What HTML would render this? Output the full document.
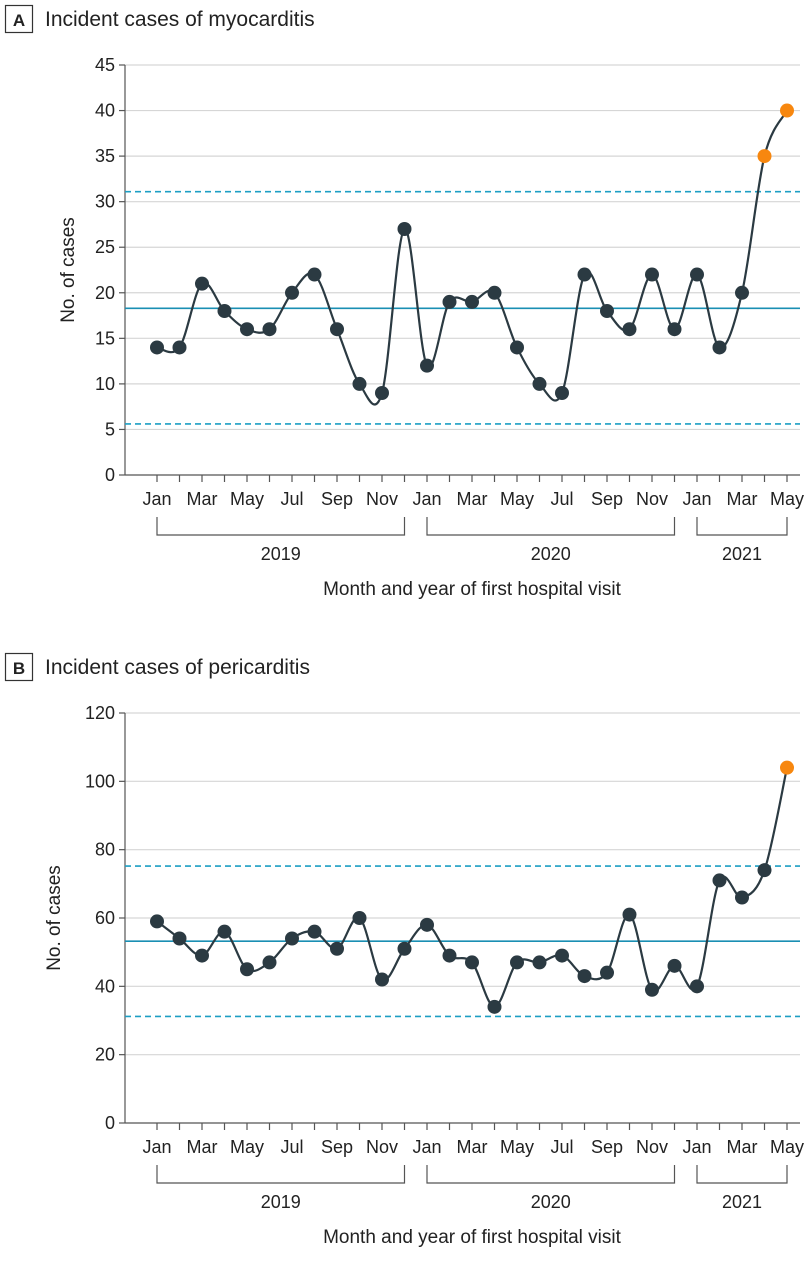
<!DOCTYPE html>
<html><head><meta charset="utf-8"><style>
body{margin:0;background:#fff;width:810px;height:1275px;overflow:hidden}
svg{display:block}
text{font-family:"Liberation Sans Narrow","Liberation Sans",sans-serif;fill:#222}
</style></head><body>
<svg id="svg" width="810" height="1275" viewBox="0 0 810 1275" xmlns="http://www.w3.org/2000/svg"></svg>
<script>
const months = ["Jan","Feb","Mar","Apr","May","Jun","Jul","Aug","Sep","Oct","Nov","Dec","Jan","Feb","Mar","Apr","May","Jun","Jul","Aug","Sep","Oct","Nov","Dec","Jan","Feb","Mar","Apr","May"];
const myoValues = [14,14,21,18,16,16,20,22,16,10,9,27,12,19,19,20,14,10,9,22,18,16,22,16,22,14,20,35,40];
const periValues = [59,54,49,56,45,47,54,56,51,60,42,51,58,49,47,34,47,47,49,43,44,61,39,46,40,71,66,74,104];
const myoLimits = [5.6,18.3,31.1];
const periLimits = [31.2,53.2,75.2];
const myoTicks = [0,5,10,15,20,25,30,35,40,45];
const periTicks = [0,20,40,60,80,100,120];
const myoSignals = [27,28];
const periSignals = [28];
const years = [{label:"2019",from:0,to:11},{label:"2020",from:12,to:23},{label:"2021",from:24,to:28}];

const NS="http://www.w3.org/2000/svg";
const svg=document.getElementById('svg');
function mk(tag,attrs,parent,txt){const e=document.createElementNS(NS,tag);for(const k in attrs)e.setAttribute(k,attrs[k]);if(txt!==undefined)e.textContent=txt;(parent||svg).appendChild(e);return e;}

function panel(oy,letter,title,values,limits,ticks,ymax,signals,key){
  const g=mk('g',{});
  
  
  const x0=125,x1=800,yTop=65+oy,yBot=475+oy;
  const xs=i=>157+i*22.5;
  const ys=v=>yBot-(v/ymax)*(yBot-yTop);
  const lb=mk('rect',{x:5.5,y:5.5+oy,width:27,height:27,fill:'none',stroke:'#333','stroke-width':1.2},g);
  
  
  const lt=mk('text',{x:19,y:26+oy,'text-anchor':'middle','font-size':17,'font-weight':'bold'},g,letter);
  
  
  const tt=mk('text',{x:45,y:26+oy,'font-size':21},g,title);
  
  
  ticks.forEach(t=>{
    const y=ys(t);
    if(t>0){const gl=mk('line',{x1:x0,x2:x1,y1:y,y2:y,stroke:'#d6d6d6','stroke-width':1.2},g);
      }
    mk('line',{x1:x0-6,x2:x0,y1:y,y2:y,stroke:'#555','stroke-width':1.2},g);
    const tl=mk('text',{x:x0-10,y:y+6,'text-anchor':'end','font-size':18},g,String(t));
    
    
  });
  mk('line',{x1:x0,x2:x0,y1:yTop,y2:yBot,stroke:'#555','stroke-width':1.2},g);
  mk('line',{x1:x0,x2:x1,y1:yBot,y2:yBot,stroke:'#555','stroke-width':1.2},g);
  const yt=mk('text',{x:0,y:0,'text-anchor':'middle','font-size':19,transform:`translate(${key==='myo'?74:60},${(yTop+yBot)/2}) rotate(-90)`},g,'No. of cases');
  
  
  const cls=['lower-control-limit','mean-line','upper-control-limit'];
  limits.forEach((v,i)=>{
    const l=mk('line',{x1:x0,x2:x1,y1:ys(v),y2:ys(v),stroke:i===1?'#1a8fb3':'#1d9fc4','stroke-width':1.6,'stroke-dasharray':i===1?'':'6,4'},g);
    
    
  });
  months.forEach((m,i)=>{
    const x=xs(i);
    mk('line',{x1:x,x2:x,y1:yBot,y2:yBot+7,stroke:'#555','stroke-width':1.2},g);
    if(i%2===0){const t=mk('text',{x:x,y:yBot+30,'text-anchor':'middle','font-size':18},g,m);
      }
  });
  years.forEach(yr=>{
    const a=xs(yr.from),b=xs(yr.to),yb=yBot+60;
    const p=mk('path',{d:`M${a},${yBot+42}V${yb}H${b}V${yBot+42}`,fill:'none',stroke:'#555','stroke-width':1.2},g);
    
    
    const t=mk('text',{x:(a+b)/2,y:yBot+85,'text-anchor':'middle','font-size':18},g,yr.label);
    
    
  });
  const xt=mk('text',{x:472,y:yBot+120,'text-anchor':'middle','font-size':19},g,'Month and year of first hospital visit');
  
  
  const P=values.map((v,i)=>[xs(i),ys(v)]);
  let d=`M${P[0][0]},${P[0][1]}`;
  for(let i=0;i<P.length-1;i++){
    const p0=P[i-1]||P[i],p1=P[i],p2=P[i+1],p3=P[i+2]||P[i+1];
    const c1=[p1[0]+(p2[0]-p0[0])/6,p1[1]+(p2[1]-p0[1])/6];
    const c2=[p2[0]-(p3[0]-p1[0])/6,p2[1]-(p3[1]-p1[1])/6];
    d+=`C${c1[0]},${c1[1]} ${c2[0]},${c2[1]} ${p2[0]},${p2[1]}`;
  }
  const line=mk('path',{d:d,fill:'none',stroke:'#2b3a42','stroke-width':2.2},g);
  
  
  values.forEach((v,i)=>{
    const sig=signals.includes(i);
    const c=mk('circle',{cx:xs(i),cy:ys(v),r:7,fill:sig?'#f7870f':'#2b3a42'},g);
    
    
  });
}
panel(0,'A','Incident cases of myocarditis',myoValues,myoLimits,myoTicks,45,myoSignals,'myo');
panel(648,'B','Incident cases of pericarditis',periValues,periLimits,periTicks,120,periSignals,'peri');
</script>
</body></html>
